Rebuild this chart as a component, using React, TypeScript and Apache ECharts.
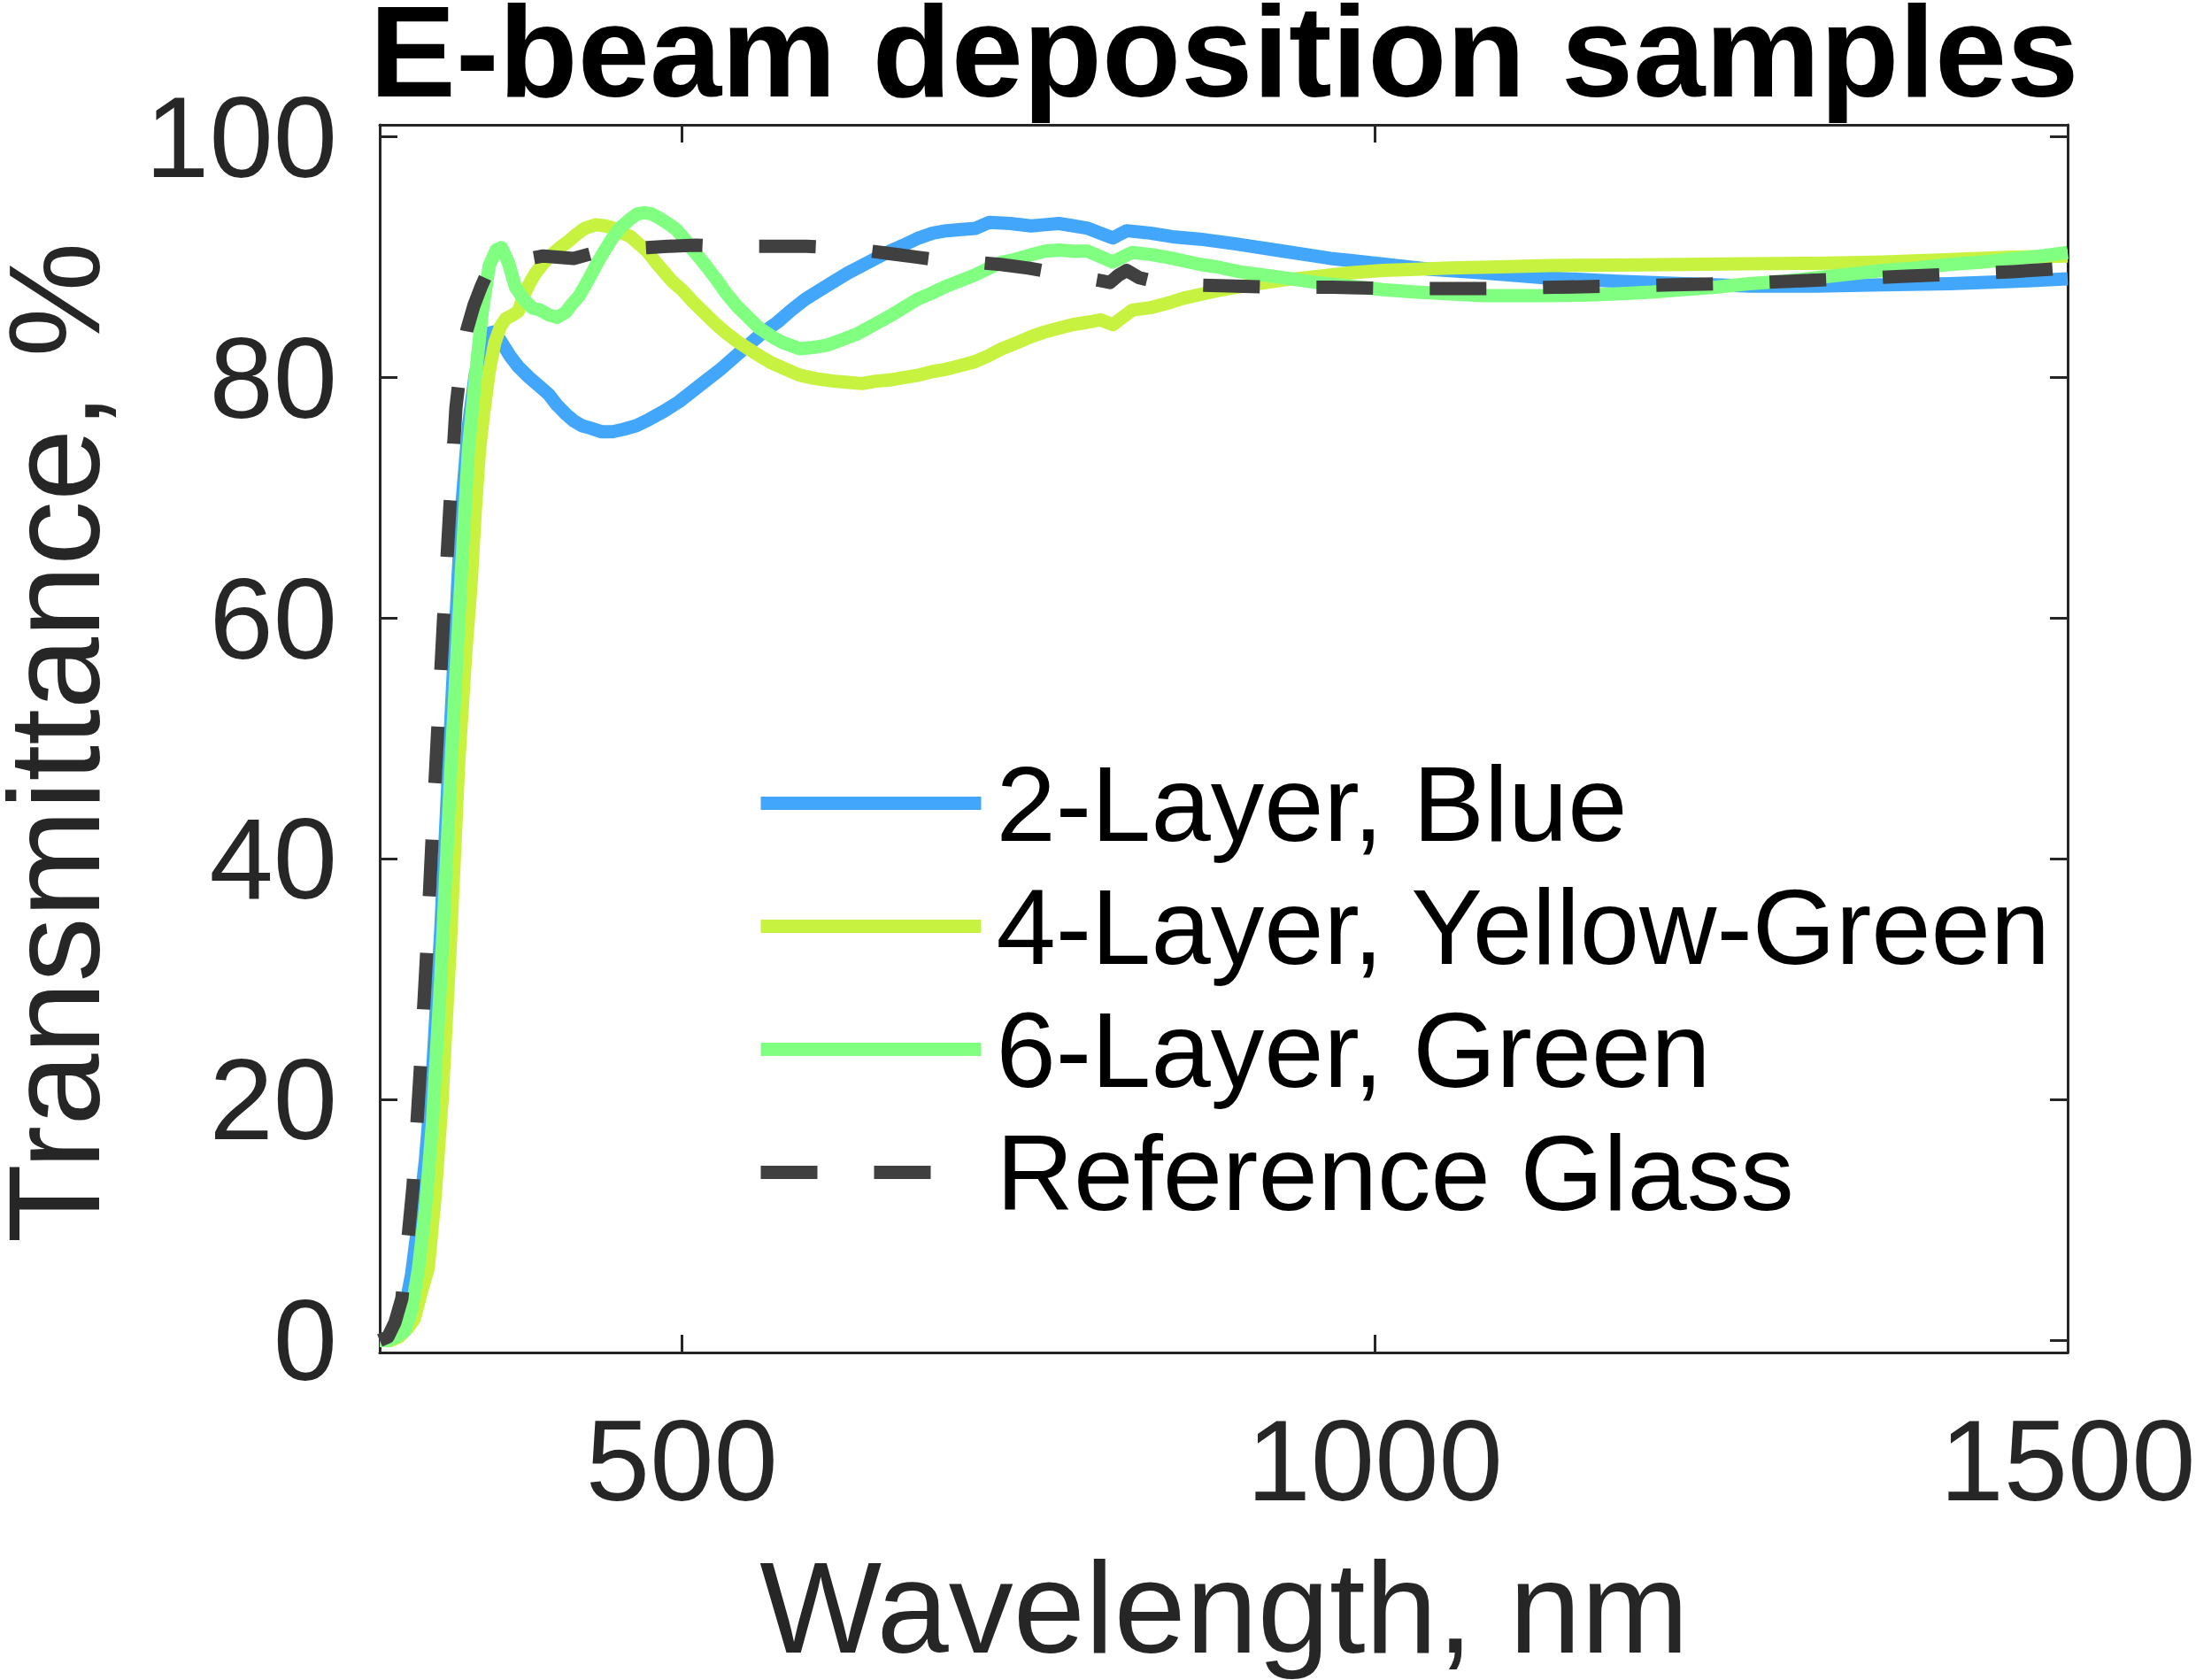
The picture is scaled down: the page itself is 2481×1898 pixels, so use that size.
import React, { useEffect, useRef } from "react";
import * as echarts from "echarts";

const FONT = "'Liberation Sans', Arial, Helvetica, sans-serif";
const AXIS_COLOR = "#262626";

const xTicks = [500, 1000, 1500];
const yTicks = [0, 20, 40, 60, 80, 100];

const seriesNames = ["2-Layer, Blue", "4-Layer, Yellow-Green", "6-Layer, Green", "Reference Glass"];
const seriesColors = ["#42A7FA", "#C8F240", "#80FF80", "#404040"];

const blueX = [282, 288, 294, 300, 305, 310, 315, 320, 326, 334, 341, 346, 351, 356, 361, 365, 370, 376, 382, 390, 398, 404, 410, 416, 422, 428, 434, 442, 450, 458, 467, 476, 487, 498, 508, 518, 528, 538, 548, 558, 569, 579, 589, 600, 610, 620, 630, 640, 650, 660, 671, 681, 691, 702, 712, 722, 737, 752, 762, 772, 783, 793, 802, 811, 821, 838, 854, 874, 900, 934, 968, 1001, 1040, 1078, 1122, 1175, 1223, 1271, 1319, 1367, 1415, 1463, 1500];
const blueY = [0, 0.2, 0.8, 2.5, 5.5, 10, 15, 22, 34, 53, 69, 76, 80.3, 82.5, 83.7, 83.8, 82.9, 81.8, 80.9, 80.0, 79.2, 78.6, 77.7, 77.0, 76.4, 76.0, 75.8, 75.5, 75.5, 75.7, 76.0, 76.5, 77.2, 78.0, 78.9, 79.8, 80.7, 81.7, 82.7, 83.7, 84.6, 85.6, 86.5, 87.3, 88.0, 88.7, 89.3, 89.9, 90.5, 91.0, 91.6, 92.0, 92.2, 92.3, 92.4, 92.9, 92.8, 92.6, 92.7, 92.8, 92.6, 92.4, 92.0, 91.6, 92.2, 92.0, 91.7, 91.5, 91.1, 90.5, 89.9, 89.5, 89.0, 88.7, 88.3, 88.0, 87.8, 87.6, 87.6, 87.7, 87.8, 88.0, 88.2];

const yellowX = [282, 290, 296, 302, 307, 312, 317, 322, 327, 333, 339, 344, 348, 351, 354, 357, 361, 365, 369, 373, 378, 382, 386, 390, 394, 400, 406, 412, 418, 424, 430, 438, 445, 451, 457, 463, 469, 475, 481, 487, 493, 500, 508, 516, 524, 532, 540, 548, 556, 565, 575, 585, 597, 610, 620, 630, 640, 650, 660, 671, 681, 691, 701, 711, 721, 731, 742, 752, 762, 772, 782, 793, 802, 811, 818, 825, 838, 854, 862, 874, 890, 910, 934, 958, 982, 1006, 1030, 1054, 1090, 1126, 1175, 1223, 1270, 1319, 1367, 1415, 1460, 1500];
const yellowY = [0, 0, 0.3, 1.0, 1.8, 4, 6, 12, 20, 33, 48, 57, 63, 69, 74, 77, 80.5, 82.9, 84.2, 84.9, 85.2, 85.5, 86.8, 87.8, 88.6, 89.5, 90.2, 90.8, 91.3, 91.9, 92.4, 92.7, 92.6, 92.4, 92.0, 91.7, 91.1, 90.5, 89.6, 88.8, 88.0, 87.3, 86.3, 85.4, 84.5, 83.7, 83.0, 82.4, 81.8, 81.2, 80.7, 80.2, 79.9, 79.7, 79.6, 79.5, 79.7, 79.8, 80.0, 80.2, 80.5, 80.7, 81.0, 81.3, 81.8, 82.4, 82.9, 83.4, 83.8, 84.1, 84.4, 84.6, 84.8, 84.4, 85.0, 85.6, 85.8, 86.3, 86.6, 86.9, 87.3, 87.7, 88.1, 88.4, 88.7, 88.9, 89.0, 89.1, 89.2, 89.3, 89.35, 89.4, 89.45, 89.5, 89.6, 89.8, 90.0, 90.1];

const greenX = [282, 288, 294, 300, 305, 310, 315, 320, 326, 334, 341, 346, 351, 356, 361, 366, 370, 375, 380, 386, 392, 398, 404, 410, 416, 420, 426, 432, 438, 444, 450, 456, 463, 468, 473, 478, 483, 490, 496, 502, 508, 516, 524, 532, 540, 548, 556, 565, 573, 585, 595, 605, 617, 626, 634, 642, 650, 660, 670, 680, 691, 700, 711, 720, 731, 740, 752, 762, 772, 782, 793, 803, 811, 818, 825, 840, 854, 874, 886, 902, 934, 958, 982, 1006, 1030, 1054, 1078, 1102, 1126, 1150, 1175, 1200, 1222, 1246, 1270, 1295, 1319, 1343, 1367, 1391, 1415, 1439, 1463, 1481, 1500];
const greenY = [0, 0, 0.3, 0.8, 2.5, 6, 11, 18, 30, 49, 64, 74, 80, 85.5, 89.3, 90.6, 90.8, 89.5, 87.5, 86.5, 85.8, 85.6, 85.2, 85.0, 85.4, 86.0, 86.8, 88.0, 89.3, 90.5, 91.6, 92.5, 93.2, 93.6, 93.7, 93.6, 93.3, 92.8, 92.3, 91.5, 90.6, 89.5, 88.3, 87.0, 85.9, 85.0, 84.1, 83.4, 82.9, 82.4, 82.5, 82.7, 83.2, 83.6, 84.1, 84.6, 85.1, 85.8, 86.5, 87.0, 87.6, 88.0, 88.5, 89.0, 89.6, 89.8, 90.2, 90.5, 90.6, 90.5, 90.5, 90.0, 89.6, 90.0, 90.4, 90.2, 89.9, 89.4, 89.2, 88.8, 88.3, 87.9, 87.6, 87.3, 87.1, 86.95, 86.8, 86.8, 86.8, 86.85, 86.95, 87.1, 87.3, 87.5, 87.8, 88.0, 88.3, 88.6, 88.9, 89.1, 89.4, 89.6, 89.9, 90.1, 90.4];

const refX = [282, 288, 293, 298, 302, 306, 311, 315.6, 319.5, 323.7, 328, 332.6, 337, 341, 345, 350, 355, 360, 365, 372, 385, 400, 410, 422, 435, 447, 460, 475, 490, 510, 530, 550, 570, 590, 610, 630, 650, 670, 690, 710, 730, 750, 770, 790, 800, 809, 815, 821, 830, 848, 870, 900, 930, 970, 1010, 1050, 1090, 1130, 1175, 1215, 1255, 1300, 1340, 1380, 1420, 1460, 1500];
const refY = [0, 0.3, 1.5, 3.5, 8, 12.8, 22, 31.6, 41, 50.4, 59.8, 69.2, 77.5, 81.5, 84.0, 86.0, 87.5, 88.8, 89.4, 89.6, 89.8, 90.1, 90.0, 89.9, 90.3, 90.6, 90.7, 90.8, 90.9, 91.0, 90.9, 90.9, 90.9, 90.9, 90.8, 90.6, 90.3, 90.0, 89.7, 89.6, 89.4, 89.1, 88.7, 88.3, 88.1, 87.9, 88.5, 88.9, 88.3, 87.8, 87.7, 87.6, 87.5, 87.5, 87.4, 87.4, 87.4, 87.5, 87.6, 87.7, 87.8, 88.0, 88.2, 88.4, 88.6, 88.8, 89.1];

const seriesX = [blueX, yellowX, greenX, refX];
const seriesY = [blueY, yellowY, greenY, refY];

const X_MIN = 282;
const X_MAX = 1500;
const Y_MIN = -1;
const Y_MAX = 101;

const plainNumber = (v: number) => String(v);

function makeXAxis(position: "bottom" | "top", showLabels: boolean) {
  return {
    type: "value",
    min: X_MIN,
    max: X_MAX,
    position,
    axisLine: { show: true, onZero: false, lineStyle: { color: AXIS_COLOR, width: 3 } },
    axisTick: { show: true, inside: true, length: 20, lineStyle: { color: AXIS_COLOR, width: 3 }, customValues: xTicks },
    axisLabel: {
      show: showLabels,
      customValues: xTicks,
      formatter: plainNumber,
      fontSize: 130,
      fontFamily: FONT,
      color: AXIS_COLOR,
      margin: 122,
      verticalAlign: "middle",
      hideOverlap: false,
    },
    splitLine: { show: false },
  };
}

function makeYAxis(position: "left" | "right", showLabels: boolean) {
  return {
    type: "value",
    min: Y_MIN,
    max: Y_MAX,
    position,
    axisLine: { show: true, onZero: false, lineStyle: { color: AXIS_COLOR, width: 3 } },
    axisTick: { show: true, inside: true, length: 20, lineStyle: { color: AXIS_COLOR, width: 3 }, customValues: yTicks },
    axisLabel: {
      show: showLabels,
      customValues: yTicks,
      formatter: plainNumber,
      fontSize: 130,
      fontFamily: FONT,
      color: AXIS_COLOR,
      margin: 48,
    },
    splitLine: { show: false },
  };
}

export default function App() {
  const ref = useRef<HTMLDivElement | null>(null);

  useEffect(() => {
    if (!ref.current) return;
    const chart = echarts.init(ref.current, null, { renderer: "svg" });
    const series = seriesNames.map((name, i) => ({
      name,
      type: "line",
      xAxisIndex: 0,
      yAxisIndex: 0,
      data: seriesX[i].map((x, j) => [x, seriesY[i][j]]),
      symbol: "none",
      showSymbol: false,
      smooth: false,
      clip: true,
      z: 2 + i,
      lineStyle: {
        color: seriesColors[i],
        width: 15,
        type: i === 3 ? [64, 64] : "solid",
        cap: "butt",
        join: "round",
      },
      itemStyle: { color: seriesColors[i] },
      emphasis: { disabled: true },
    }));

    chart.setOption({
      animation: false,
      backgroundColor: "#ffffff",
      grid: {
        left: 429,
        right: 145,
        top: 141,
        bottom: 370,
        containLabel: false,
        outerBoundsMode: "none",
      },
      xAxis: [makeXAxis("bottom", true), makeXAxis("top", false)],
      yAxis: [makeYAxis("left", true), makeYAxis("right", false)],
      legend: {
        data: seriesNames,
        orient: "vertical",
        left: 852,
        top: 847,
        padding: 0,
        itemWidth: 249,
        itemHeight: 15,
        itemGap: 18,
        selectedMode: false,
        itemStyle: { opacity: 0 },
        lineStyle: { width: 15 },
        textStyle: {
          fontSize: 121,
          lineHeight: 120,
          fontFamily: FONT,
          color: "#000000",
          padding: [0, 0, 0, 12],
        },
      },
      graphic: [
        {
          type: "text",
          x: 1383,
          y: 58,
          style: {
            text: "E-beam deposition samples",
            fontSize: 146,
            lineHeight: 110,
            fontWeight: "bold",
            fontFamily: FONT,
            fill: "#000000",
            align: "center",
            verticalAlign: "middle",
          },
        },
        {
          type: "text",
          x: 1383,
          y: 1816,
          style: {
            text: "Wavelength, nm",
            fontSize: 146,
            fontFamily: FONT,
            fill: AXIS_COLOR,
            align: "center",
            verticalAlign: "middle",
          },
        },
        {
          type: "text",
          x: 61,
          y: 839,
          rotation: Math.PI / 2,
          style: {
            text: "Transmittance, %",
            fontSize: 146,
            lineHeight: 110,
            fontFamily: FONT,
            fill: AXIS_COLOR,
            align: "center",
            verticalAlign: "middle",
          },
        },
      ],
      series,
    });

    return () => {
      chart.dispose();
    };
  }, []);

  return (
    <div
      ref={ref}
      style={{ position: "fixed", left: 0, top: 0, width: 2481, height: 1898, background: "#ffffff" }}
    />
  );
}
